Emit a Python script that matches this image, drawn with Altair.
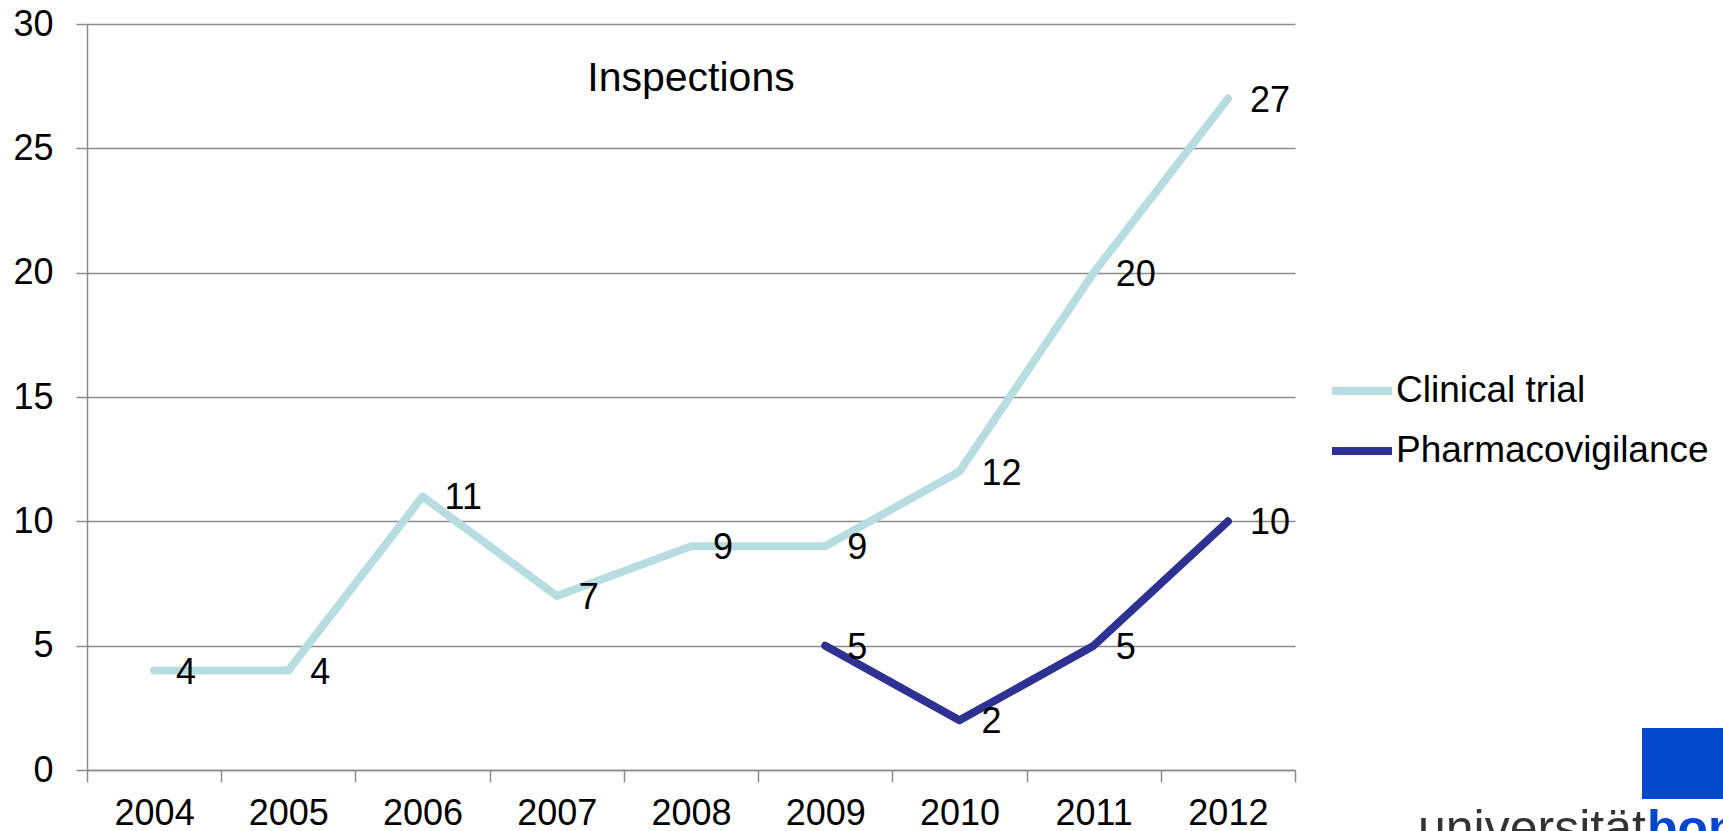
import altair as alt
import pandas as pd

years = ["2004", "2005", "2006", "2007", "2008", "2009", "2010", "2011", "2012"]
clinical = [4, 4, 11, 7, 9, 9, 12, 20, 27]
pharma_years = ["2009", "2010", "2011", "2012"]
pharma = [5, 2, 5, 10]
series = ["Clinical trial", "Pharmacovigilance"]
colors = ["#B7DDE0", "#2E3192"]
title_text = "Inspections"

rows = [{"year": y, "value": v, "series": series[0]} for y, v in zip(years, clinical)]
rows += [{"year": y, "value": v, "series": series[1]} for y, v in zip(pharma_years, pharma)]
df = pd.DataFrame(rows)

FONT = "Liberation Sans"

x_enc = alt.X("year:N", sort=years,
              scale=alt.Scale(type="band", domain=years, paddingInner=0, paddingOuter=0),
              axis=alt.Axis(title=None, labelAngle=0, tickBand="extent", tickSize=12,
                            labelFontSize=36, labelFont=FONT, labelColor="#000000",
                            labelPadding=14, domainColor="#8C8C8C", tickColor="#8C8C8C",
                            domainWidth=1.5, tickWidth=1.5, grid=False))
y_enc = alt.Y("value:Q", scale=alt.Scale(domain=[0, 30], nice=False),
              axis=alt.Axis(title=None, values=[0, 5, 10, 15, 20, 25, 30], tickSize=11,
                            labelFontSize=36, labelFont=FONT, labelColor="#000000",
                            labelPadding=23, domainColor="#8C8C8C", tickColor="#8C8C8C",
                            gridColor="#8C8C8C", gridWidth=1.5, domainWidth=1.5, tickWidth=1.5,
                            grid=True))

base = alt.Chart(df)

lines = base.mark_line(strokeWidth=8, strokeCap="round", strokeJoin="round").encode(
    x=x_enc,
    y=y_enc,
    color=alt.Color("series:N",
                    scale=alt.Scale(domain=series, range=colors),
                    legend=alt.Legend(title=None, orient="none", legendX=1241, legendY=333,
                                      symbolType="stroke", symbolStrokeWidth=8, symbolSize=3600,
                                      labelFontSize=37, labelFont=FONT, labelColor="#000000",
                                      labelLimit=0, labelOffset=0, rowPadding=8, padding=0)),
    detail="series:N",
)

labels = base.mark_text(align="left", baseline="middle", dx=22, dy=2,
                        fontSize=36, font=FONT, color="#000000").encode(
    x=alt.X("year:N", sort=years),
    y="value:Q",
    text="value:Q",
)

title_df = pd.DataFrame({"t": [title_text], "xx": ["2008"], "yy": [27.8]})
title = alt.Chart(title_df).mark_text(align="center", baseline="middle", fontSize=41,
                                      font=FONT, color="#000000").encode(
    x=alt.X("xx:N"), y=alt.Y("yy:Q"), text="t:N")

logo_df = pd.DataFrame({"a": ["universität"], "b": ["bonn"]})
logo_rect = alt.Chart(logo_df).mark_rect(color="#0047CC").encode(
    x=alt.value(1555), x2=alt.value(1640), y=alt.value(704), y2=alt.value(775))
logo_t1 = alt.Chart(logo_df).mark_text(align="left", baseline="alphabetic", fontSize=50,
                                       font=FONT, color="#333333").encode(
    x=alt.value(1331), y=alt.value(821), text="a:N")
logo_t2 = alt.Chart(logo_df).mark_text(align="left", baseline="alphabetic", fontSize=50,
                                       font=FONT, fontWeight="bold", color="#0047CC").encode(
    x=alt.value(1560), y=alt.value(821), text="b:N")

chart = alt.layer(lines, labels, title, logo_rect, logo_t1, logo_t2).properties(
    width=1208, height=746,
    autosize=alt.AutoSizeParams(type="none"),
    padding={"left": 87, "top": 24, "right": 428, "bottom": 61},
    background="#FFFFFF",
).configure_view(stroke=None)

chart.save("out.html", embed_options={"renderer": "svg", "actions": False})
